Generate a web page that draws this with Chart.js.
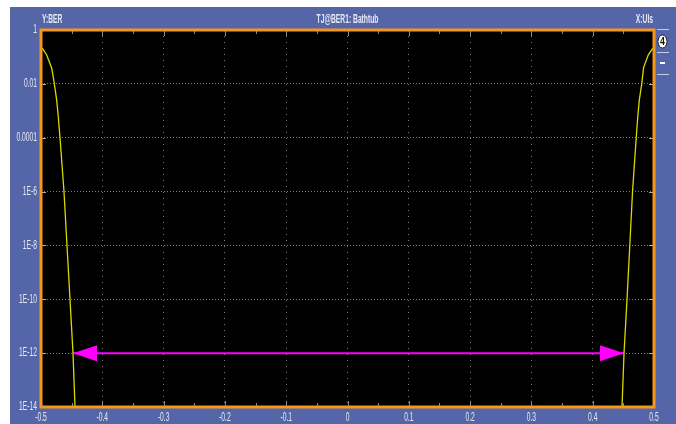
<!DOCTYPE html>
<html>
<head>
<meta charset="utf-8">
<script src="https://cdn.jsdelivr.net/npm/chart.js@4/dist/chart.umd.min.js"></script>
<style>
  html, body { margin: 0; padding: 0; background: #fff; }
  #wrap { width: 676px; height: 424px; }
</style>
</head>
<body>
<div id="wrap"><canvas id="bathtub" width="676" height="424"></canvas></div>
<script>
// bathtub curve, left and right edges (UI vs BER)
var leftUI   = [-0.5, -0.4972, -0.4907, -0.4825, -0.4788, -0.4744, -0.4718, -0.469, -0.4625, -0.4576, -0.4527, -0.4478, -0.4445];
var leftBER  = [0.21, 0.2, 0.118, 0.038, 0.012, 0.0025, 6e-4, 1e-4, 1e-6, 1e-8, 1e-10, 1e-12, 1e-14];
var rightUI  = [0.5, 0.4975, 0.4907, 0.483, 0.48, 0.476, 0.4735, 0.471, 0.465, 0.4605, 0.456, 0.4511, 0.4478];
var rightBER = [0.22, 0.2, 0.12, 0.04, 0.01, 0.0025, 6e-4, 1e-4, 1e-6, 1e-8, 1e-10, 1e-12, 1e-14];

// TJ@BER1 marker (arrow between the two curve crossings)
var arrowUI  = [-0.4478, 0.4511];
var arrowBER = 1e-12;

var xTicks = [-0.5, -0.4, -0.3, -0.2, -0.1, 0, 0.1, 0.2, 0.3, 0.4, 0.5];
var xLabels = ['-0.5', '-0.4', '-0.3', '-0.2', '-0.1', '0', '0.1', '0.2', '0.3', '0.4', '0.5'];
var yTicks = [1, 1e-2, 1e-4, 1e-6, 1e-8, 1e-10, 1e-12, 1e-14];
var yLabels = ['1', '0.01', '0.0001', '1E-6', '1E-8', '1E-10', '1E-12', '1E-14'];

var FONT = "12px 'Liberation Sans', Arial, sans-serif";
var SQUEEZE = 0.56; // scope font is very narrow
var BLUE = '#5566a8';
var ORANGE = '#f5961e';
var TEXT = '#e6e8f2';

function pts(xs, ys) {
  var out = [];
  for (var i = 0; i < xs.length; i++) out.push({x: xs[i], y: ys[i]});
  return out;
}

// narrow text: horizontally squeezed fillText
function narrow(ctx, txt, x, y, align) {
  ctx.save();
  ctx.translate(x, y);
  ctx.scale(SQUEEZE, 1);
  ctx.textAlign = align;
  ctx.fillText(txt, 0, 0);
  ctx.restore();
}

var scopePlugin = {
  id: 'scope',
  beforeDraw: function(chart) {
    var ctx = chart.ctx, a = chart.chartArea;
    ctx.save();
    ctx.fillStyle = '#fff';
    ctx.fillRect(0, 0, chart.width, chart.height);
    ctx.fillStyle = BLUE;
    ctx.fillRect(10, 7, chart.width - 10, chart.height - 7);
    ctx.fillStyle = '#000';
    ctx.fillRect(a.left, a.top, a.right - a.left, a.bottom - a.top);
    ctx.restore();
  },
  afterDatasetsDraw: function(chart) {
    var ctx = chart.ctx, a = chart.chartArea;
    var xs = chart.scales.x, ys = chart.scales.y;
    ctx.save();

    // arrow heads
    var yA = ys.getPixelForValue(arrowBER);
    var xl = xs.getPixelForValue(arrowUI[0]);
    var xr = xs.getPixelForValue(arrowUI[1]);
    ctx.fillStyle = '#ff00ff';
    ctx.beginPath();
    ctx.moveTo(xl, yA); ctx.lineTo(xl + 24, yA - 8); ctx.lineTo(xl + 24, yA + 8); ctx.closePath();
    ctx.fill();
    ctx.beginPath();
    ctx.moveTo(xr, yA); ctx.lineTo(xr - 24, yA - 8); ctx.lineTo(xr - 24, yA + 8); ctx.closePath();
    ctx.fill();

    // inward tick marks on top/bottom edges (0.1 major, 0.05 minor)
    ctx.strokeStyle = '#8a8a8a';
    ctx.lineWidth = 1;
    for (var i = 0; i < xTicks.length - 1; i++) {
      var px = Math.round(xs.getPixelForValue(xTicks[i])) + 0.5;
      var pm = Math.round(xs.getPixelForValue((xTicks[i] + xTicks[i + 1]) / 2)) + 0.5;
      ctx.beginPath();
      if (i > 0) {
        ctx.moveTo(px, a.bottom); ctx.lineTo(px, a.bottom - 6);
        ctx.moveTo(px, a.top); ctx.lineTo(px, a.top + 6);
      }
      ctx.moveTo(pm, a.bottom); ctx.lineTo(pm, a.bottom - 4);
      ctx.moveTo(pm, a.top); ctx.lineTo(pm, a.top + 4);
      ctx.stroke();
    }
    ctx.strokeStyle = '#b0b0b0';
    for (var j = 1; j < yTicks.length - 1; j++) {
      var py = Math.round(ys.getPixelForValue(yTicks[j])) + 0.5;
      ctx.beginPath();
      ctx.moveTo(a.left, py); ctx.lineTo(a.left + 5, py);
      ctx.moveTo(a.right, py); ctx.lineTo(a.right - 5, py);
      ctx.stroke();
    }

    // orange frame
    ctx.strokeStyle = ORANGE;
    ctx.lineWidth = 3;
    ctx.strokeRect(a.left, a.top, a.right - a.left, a.bottom - a.top);

    // tick labels, placed through the scales
    ctx.fillStyle = TEXT;
    ctx.font = FONT;
    ctx.textBaseline = 'middle';
    yTicks.forEach(function(v, k) {
      narrow(ctx, yLabels[k], a.left - 4, ys.getPixelForValue(v), 'right');
    });
    xTicks.forEach(function(v, k) {
      narrow(ctx, xLabels[k], xs.getPixelForValue(v), a.bottom + 11, 'center');
    });

    // header texts
    ctx.font = 'bold ' + FONT;
    narrow(ctx, 'Y:BER', a.left + 1, 20, 'left');
    narrow(ctx, 'TJ@BER1: Bathtub', (a.left + a.right) / 2, 20, 'center');
    narrow(ctx, 'X:UIs', a.right - 1, 20, 'right');

    // right side strip
    ctx.strokeStyle = '#c8cce0';
    ctx.lineWidth = 1;
    [29.5, 52.5, 74.5].forEach(function(yy) {
      ctx.beginPath(); ctx.moveTo(657, yy); ctx.lineTo(669, yy); ctx.stroke();
    });
    ctx.fillStyle = '#fff';
    ctx.beginPath();
    ctx.ellipse(662.5, 41.5, 4.5, 6.5, 0, 0, Math.PI * 2);
    ctx.fill();
    ctx.strokeStyle = '#222';
    ctx.stroke();
    ctx.fillStyle = '#111';
    ctx.font = "bold 11px 'Liberation Sans', Arial, sans-serif";
    ctx.save();
    ctx.translate(662.5, 42);
    ctx.scale(0.8, 1);
    ctx.textAlign = 'center';
    ctx.fillText('4', 0, 0);
    ctx.restore();
    ctx.fillStyle = '#fff';
    ctx.fillRect(660, 62, 5, 2);

    ctx.restore();
  }
};

function gridColor(c) {
  var v = c.tick ? c.tick.value : null;
  if (c.scale.axis === 'x') return (v <= -0.49 || v >= 0.49) ? 'rgba(0,0,0,0)' : '#7a7a7a';
  return (v >= 0.9 || v <= 1.1e-14) ? 'rgba(0,0,0,0)' : '#7a7a7a';
}

var chart = new Chart(document.getElementById('bathtub'), {
  type: 'scatter',
  data: {
    datasets: [
      {
        label: 'left',
        data: pts(leftUI, leftBER),
        showLine: true,
        borderColor: '#d9d900',
        borderWidth: 1.3,
        pointRadius: 0,
        tension: 0
      },
      {
        label: 'right',
        data: pts(rightUI, rightBER),
        showLine: true,
        borderColor: '#d9d900',
        borderWidth: 1.3,
        pointRadius: 0,
        tension: 0
      },
      {
        label: 'TJ@BER1',
        data: [{x: arrowUI[0], y: arrowBER}, {x: arrowUI[1], y: arrowBER}],
        showLine: true,
        borderColor: '#ff00ff',
        borderWidth: 2,
        pointRadius: 0
      }
    ]
  },
  options: {
    responsive: false,
    animation: false,
    events: [],
    layout: { padding: { left: 0, top: 30, right: 22, bottom: 0 } },
    plugins: { legend: { display: false }, tooltip: { enabled: false } },
    scales: {
      x: {
        type: 'linear',
        min: -0.5,
        max: 0.5,
        afterBuildTicks: function(s) { s.ticks = xTicks.map(function(v) { return {value: v}; }); },
        afterFit: function(s) { s.height = 17; },
        ticks: { display: false },
        grid: { color: gridColor, lineWidth: 1, drawTicks: false },
        border: { display: false, dash: [1, 5] }
      },
      y: {
        type: 'logarithmic',
        min: 1e-14,
        max: 1,
        afterBuildTicks: function(s) { s.ticks = yTicks.map(function(v) { return {value: v}; }); },
        afterFit: function(s) { s.width = 41; },
        ticks: { display: false },
        grid: { color: gridColor, lineWidth: 1, drawTicks: false },
        border: { display: false, dash: [1, 2] }
      }
    }
  },
  plugins: [scopePlugin]
});
</script>
</body>
</html>
